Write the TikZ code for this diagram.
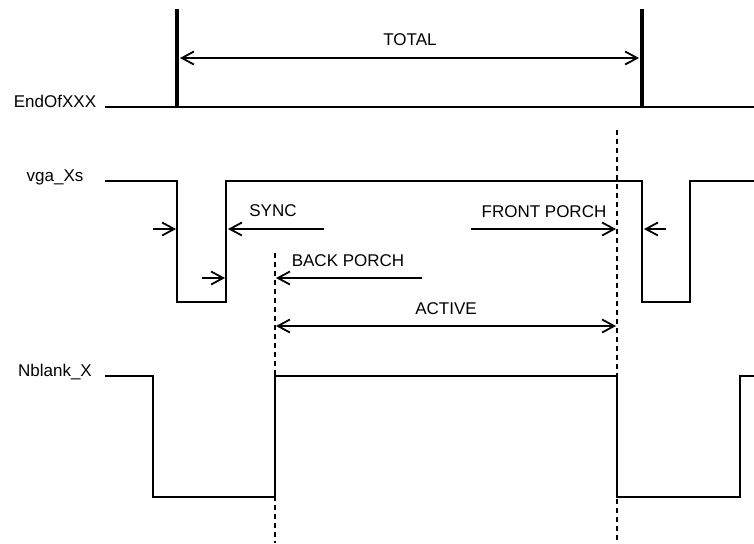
\documentclass[tikz,border=0pt]{standalone}
\usepackage{fontspec}
\setmainfont{Liberation Sans}
\usetikzlibrary{arrows.meta}
\begin{document}
\begin{tikzpicture}[x=0.5pt, y=-0.5pt,
    wave/.style={line width=0.9pt, line join=miter},
    bar/.style={line width=2.3pt},
    dim/.style={line width=0.9pt, -{Straight Barb[length=6pt,width=6.5pt]}},
    dimboth/.style={line width=0.9pt, {Straight Barb[length=6pt,width=6.5pt]}-{Straight Barb[length=6pt,width=6.5pt]}},
    guide/.style={line width=0.9pt, dash pattern=on 2.5pt off 2pt},
    lbl/.style={anchor=base, inner sep=0pt, font=\fontsize{8.5}{10}\selectfont}]

    \useasboundingbox (0,0) rectangle (754,543);

    \def \yE {107}
    \def \yVh {181}
    \def \yVl {302}
    \def \yNh {376}
    \def \yNl {497}

    % signal names
    \node[lbl] (endofxxx) at (55,\yE) {EndOfXXX};
    \node[lbl] (vgaxs) at (55,\yVh) {vga\_Xs};
    \node[lbl] (nblankx) at (55,\yNh) {Nblank\_X};

    % EndOfXXX
    \draw[wave] (105,\yE) -- (754,\yE);
    \draw[bar] (177,9) -- (177,\yE);
    \draw[bar] (642,9) -- (642,\yE);

    % vga_Xs
    \draw[wave] (105,\yVh) -| (177,\yVl) -| (226,\yVh) -| (642,\yVl) -| (690,\yVh) -- (754,\yVh);

    % Nblank_X
    \draw[wave] (105,\yNh) -| (153,\yNl) -| (275,\yNh) -| (617,\yNl) -| (740,\yNh) -- (754,\yNh);

    % guide lines
    \draw[guide] (275,253) -- (275,543);
    \draw[guide] (617,130) -- (617,543);

    % arrow ends
    \coordinate (totL) at (180,58);
    \coordinate (totR) at (639,58);
    \coordinate (syncA) at (153,229);
    \coordinate (syncB) at (176,229);
    \coordinate (syncC) at (324,229);
    \coordinate (syncD) at (228,229);
    \coordinate (frontA) at (471,229);
    \coordinate (frontB) at (616,229);
    \coordinate (frontC) at (666,229);
    \coordinate (frontD) at (644,229);
    \coordinate (backA) at (202,278);
    \coordinate (backB) at (225,278);
    \coordinate (backC) at (422,278);
    \coordinate (backD) at (276,278);
    \coordinate (actL) at (276,326);
    \coordinate (actR) at (616,326);

    \draw[dimboth] (totL) -- (totR);
    \draw[dim] (syncA) -- (syncB);
    \draw[dim] (syncC) -- (syncD);
    \draw[dim] (frontA) -- (frontB);
    \draw[dim] (frontC) -- (frontD);
    \draw[dim] (backA) -- (backB);
    \draw[dim] (backC) -- (backD);
    \draw[dimboth] (actL) -- (actR);

    % labels
    \node[lbl] (total) at (410,45) {TOTAL};
    \node[lbl] (sync) at (273,216) {SYNC};
    \node[lbl] (backporch) at (348,266) {BACK PORCH};
    \node[lbl] (frontporch) at (544,217) {FRONT PORCH};
    \node[lbl] (active) at (446,314) {ACTIVE};

\end{tikzpicture}
\end{document}
